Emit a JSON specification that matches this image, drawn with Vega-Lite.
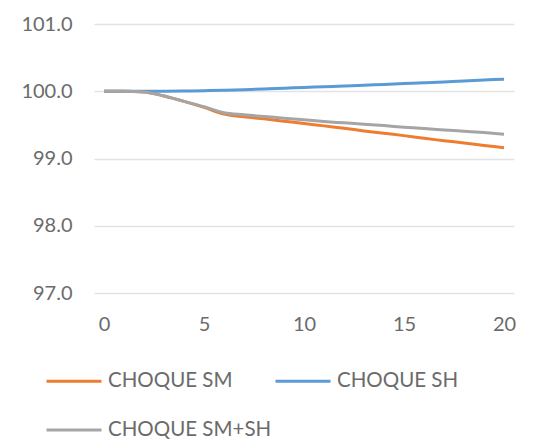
{
  "$schema": "https://vega.github.io/schema/vega-lite/v6.json",
  "width": 420,
  "height": 269,
  "autosize": "none",
  "padding": {"left": 94, "top": 24, "right": 36, "bottom": 146},
  "background": "white",
  "config": {
    "view": {"stroke": null},
    "font": "Lato"
  },
  "data": {
    "values": [
      {"x": 0, "s": "CHOQUE SM", "v": 100.0},
      {"x": 1, "s": "CHOQUE SM", "v": 100.0},
      {"x": 2, "s": "CHOQUE SM", "v": 99.99},
      {"x": 3, "s": "CHOQUE SM", "v": 99.93},
      {"x": 4, "s": "CHOQUE SM", "v": 99.85},
      {"x": 5, "s": "CHOQUE SM", "v": 99.76},
      {"x": 6, "s": "CHOQUE SM", "v": 99.66},
      {"x": 7, "s": "CHOQUE SM", "v": 99.62},
      {"x": 8, "s": "CHOQUE SM", "v": 99.59},
      {"x": 9, "s": "CHOQUE SM", "v": 99.555},
      {"x": 10, "s": "CHOQUE SM", "v": 99.52},
      {"x": 11, "s": "CHOQUE SM", "v": 99.485},
      {"x": 12, "s": "CHOQUE SM", "v": 99.45},
      {"x": 13, "s": "CHOQUE SM", "v": 99.41},
      {"x": 14, "s": "CHOQUE SM", "v": 99.375},
      {"x": 15, "s": "CHOQUE SM", "v": 99.34},
      {"x": 16, "s": "CHOQUE SM", "v": 99.30},
      {"x": 17, "s": "CHOQUE SM", "v": 99.265},
      {"x": 18, "s": "CHOQUE SM", "v": 99.23},
      {"x": 19, "s": "CHOQUE SM", "v": 99.195},
      {"x": 20, "s": "CHOQUE SM", "v": 99.16},
      {"x": 0, "s": "CHOQUE SH", "v": 100.0},
      {"x": 1, "s": "CHOQUE SH", "v": 100.0},
      {"x": 2, "s": "CHOQUE SH", "v": 100.0},
      {"x": 3, "s": "CHOQUE SH", "v": 100.0},
      {"x": 4, "s": "CHOQUE SH", "v": 100.003},
      {"x": 5, "s": "CHOQUE SH", "v": 100.008},
      {"x": 6, "s": "CHOQUE SH", "v": 100.015},
      {"x": 7, "s": "CHOQUE SH", "v": 100.024},
      {"x": 8, "s": "CHOQUE SH", "v": 100.034},
      {"x": 9, "s": "CHOQUE SH", "v": 100.045},
      {"x": 10, "s": "CHOQUE SH", "v": 100.056},
      {"x": 11, "s": "CHOQUE SH", "v": 100.067},
      {"x": 12, "s": "CHOQUE SH", "v": 100.078},
      {"x": 13, "s": "CHOQUE SH", "v": 100.09},
      {"x": 14, "s": "CHOQUE SH", "v": 100.102},
      {"x": 15, "s": "CHOQUE SH", "v": 100.114},
      {"x": 16, "s": "CHOQUE SH", "v": 100.126},
      {"x": 17, "s": "CHOQUE SH", "v": 100.139},
      {"x": 18, "s": "CHOQUE SH", "v": 100.152},
      {"x": 19, "s": "CHOQUE SH", "v": 100.166},
      {"x": 20, "s": "CHOQUE SH", "v": 100.18},
      {"x": 0, "s": "CHOQUE SM+SH", "v": 100.0},
      {"x": 1, "s": "CHOQUE SM+SH", "v": 100.0},
      {"x": 2, "s": "CHOQUE SM+SH", "v": 99.99},
      {"x": 3, "s": "CHOQUE SM+SH", "v": 99.93},
      {"x": 4, "s": "CHOQUE SM+SH", "v": 99.85},
      {"x": 5, "s": "CHOQUE SM+SH", "v": 99.77},
      {"x": 6, "s": "CHOQUE SM+SH", "v": 99.68},
      {"x": 7, "s": "CHOQUE SM+SH", "v": 99.65},
      {"x": 8, "s": "CHOQUE SM+SH", "v": 99.625},
      {"x": 9, "s": "CHOQUE SM+SH", "v": 99.60},
      {"x": 10, "s": "CHOQUE SM+SH", "v": 99.575},
      {"x": 11, "s": "CHOQUE SM+SH", "v": 99.55},
      {"x": 12, "s": "CHOQUE SM+SH", "v": 99.53},
      {"x": 13, "s": "CHOQUE SM+SH", "v": 99.51},
      {"x": 14, "s": "CHOQUE SM+SH", "v": 99.49},
      {"x": 15, "s": "CHOQUE SM+SH", "v": 99.465},
      {"x": 16, "s": "CHOQUE SM+SH", "v": 99.445},
      {"x": 17, "s": "CHOQUE SM+SH", "v": 99.425},
      {"x": 18, "s": "CHOQUE SM+SH", "v": 99.405},
      {"x": 19, "s": "CHOQUE SM+SH", "v": 99.385},
      {"x": 20, "s": "CHOQUE SM+SH", "v": 99.36}
    ]
  },
  "mark": {"type": "line", "strokeWidth": 3, "interpolate": "monotone"},
  "encoding": {
    "x": {
      "field": "x",
      "type": "quantitative",
      "scale": {"domain": [-0.5, 20.5], "nice": false, "zero": false},
      "axis": {
        "title": null,
        "values": [0, 5, 10, 15, 20],
        "grid": false,
        "domain": false,
        "ticks": false,
        "labelPadding": 21,
        "labelFontSize": 20,
        "labelColor": "#6b6b6b"
      }
    },
    "y": {
      "field": "v",
      "type": "quantitative",
      "scale": {"domain": [97, 101], "nice": false, "zero": false},
      "axis": {
        "title": null,
        "values": [97, 98, 99, 100, 101],
        "format": ".1f",
        "domain": false,
        "ticks": false,
        "grid": true,
        "gridColor": "#e3e3e3",
        "gridWidth": 1.5,
        "labelPadding": 22,
        "labelFontSize": 20,
        "labelColor": "#6b6b6b"
      }
    },
    "color": {
      "field": "s",
      "type": "nominal",
      "sort": ["CHOQUE SM", "CHOQUE SH", "CHOQUE SM+SH"],
      "scale": {
        "domain": ["CHOQUE SM", "CHOQUE SH", "CHOQUE SM+SH"],
        "range": ["#ED7D31", "#5B9BD5", "#A5A5A5"]
      },
      "legend": {
        "title": null,
        "orient": "none",
        "legendX": -49,
        "legendY": 328,
        "columns": 2,
        "direction": "horizontal",
        "symbolType": "stroke",
        "symbolSize": 3025,
        "symbolStrokeWidth": 3,
        "labelFontSize": 20.5,
        "labelLimit": 400,
        "labelColor": "#6b6b6b",
        "labelOffset": 5,
        "columnPadding": -3,
        "rowPadding": 9
      }
    }
  }
}
